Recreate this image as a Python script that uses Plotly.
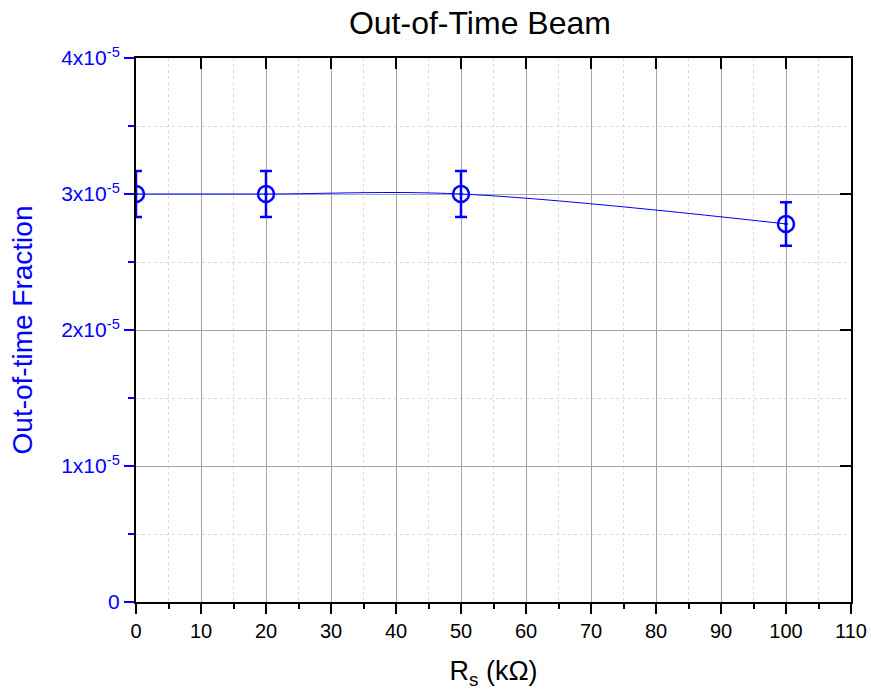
import plotly.graph_objects as go

rs_kohm = [0, 20, 50, 100]
fraction = [3.0e-5, 3.0e-5, 3.0e-5, 2.78e-5]
fraction_err = [0.17e-5, 0.17e-5, 0.17e-5, 0.16e-5]

y_tickvals = [0, 1e-5, 2e-5, 3e-5, 4e-5]
y_ticktext = ["0", "1x10<sup>-5</sup>", "2x10<sup>-5</sup>", "3x10<sup>-5</sup>", "4x10<sup>-5</sup>"]
x_tickvals = list(range(0, 111, 10))

BLUE = "#0000ff"
FONT = "Liberation Sans, Arial, sans-serif"

fig = go.Figure()
fig.add_trace(go.Scatter(
    x=rs_kohm, y=fraction,
    mode="lines+markers",
    line=dict(color=BLUE, width=1, shape="spline"),
    marker=dict(symbol="circle-open-dot", size=16, color=BLUE, line=dict(width=2.5, color=BLUE)),
    error_y=dict(type="data", array=fraction_err, visible=True, color=BLUE, thickness=2.5, width=6),
    showlegend=False,
))
# invisible trace for the mirrored axes
fig.add_trace(go.Scatter(x=[None], y=[None], xaxis="x2", yaxis="y2", showlegend=False, hoverinfo="skip"))

fig.update_layout(
    width=871, height=697,
    margin=dict(l=136, r=20, t=58, b=95, autoexpand=False),
    plot_bgcolor="white", paper_bgcolor="white",
    font=dict(family=FONT, size=20, color="black"),
    title=dict(text="Out-of-Time Beam", x=0.481, xref="paper", xanchor="center",
               y=0.968, yref="container", yanchor="middle",
               font=dict(size=32, color="black", family=FONT)),
    xaxis=dict(
        range=[0, 110], tickvals=x_tickvals, ticks="outside", ticklen=10, tickwidth=2, tickcolor="black",
        showline=True, linecolor="black", linewidth=2, zeroline=False,
        showgrid=True, gridcolor="#a6a6a6", gridwidth=1,
        minor=dict(dtick=5, ticks="outside", ticklen=5, tickwidth=2, tickcolor="black",
                   showgrid=True, gridcolor="#d9d9d9", griddash="dot", gridwidth=1),
        tickfont=dict(size=20, color="black"),
        title=dict(text="R<sub>s</sub> (kΩ)", font=dict(size=27, color="black"), standoff=20),
        automargin=False,
    ),
    yaxis=dict(
        range=[0, 4e-5], tickvals=y_tickvals, ticktext=y_ticktext,
        ticks="outside", ticklen=10, tickwidth=2, tickcolor=BLUE,
        showline=True, linecolor="black", linewidth=2, zeroline=False,
        showgrid=True, gridcolor="#a6a6a6", gridwidth=1,
        minor=dict(tickvals=[0.5e-5, 1.5e-5, 2.5e-5, 3.5e-5], ticks="outside", ticklen=6, tickwidth=2, tickcolor=BLUE,
                   showgrid=True, gridcolor="#d9d9d9", griddash="dot", gridwidth=1),
        tickfont=dict(size=21, color=BLUE),
        title=dict(text="Out-of-time Fraction", font=dict(size=28, color=BLUE), standoff=20),
        automargin=False,
    ),
    xaxis2=dict(
        overlaying="x", side="top", range=[0, 110], tickvals=x_tickvals, showticklabels=False,
        ticks="inside", ticklen=11, tickwidth=2, tickcolor="black",
        showline=True, linecolor="black", linewidth=2, showgrid=False, zeroline=False,
    ),
    yaxis2=dict(
        overlaying="y", side="right", range=[0, 4e-5], tickvals=y_tickvals, showticklabels=False,
        ticks="inside", ticklen=11, tickwidth=2, tickcolor="black",
        showline=True, linecolor="black", linewidth=2, showgrid=False, zeroline=False,
    ),
)

fig.write_html(
    "out.html",
    config={"displayModeBar": False},
    post_script="document.body.style.margin='0';document.body.style.overflow='hidden';",
)
